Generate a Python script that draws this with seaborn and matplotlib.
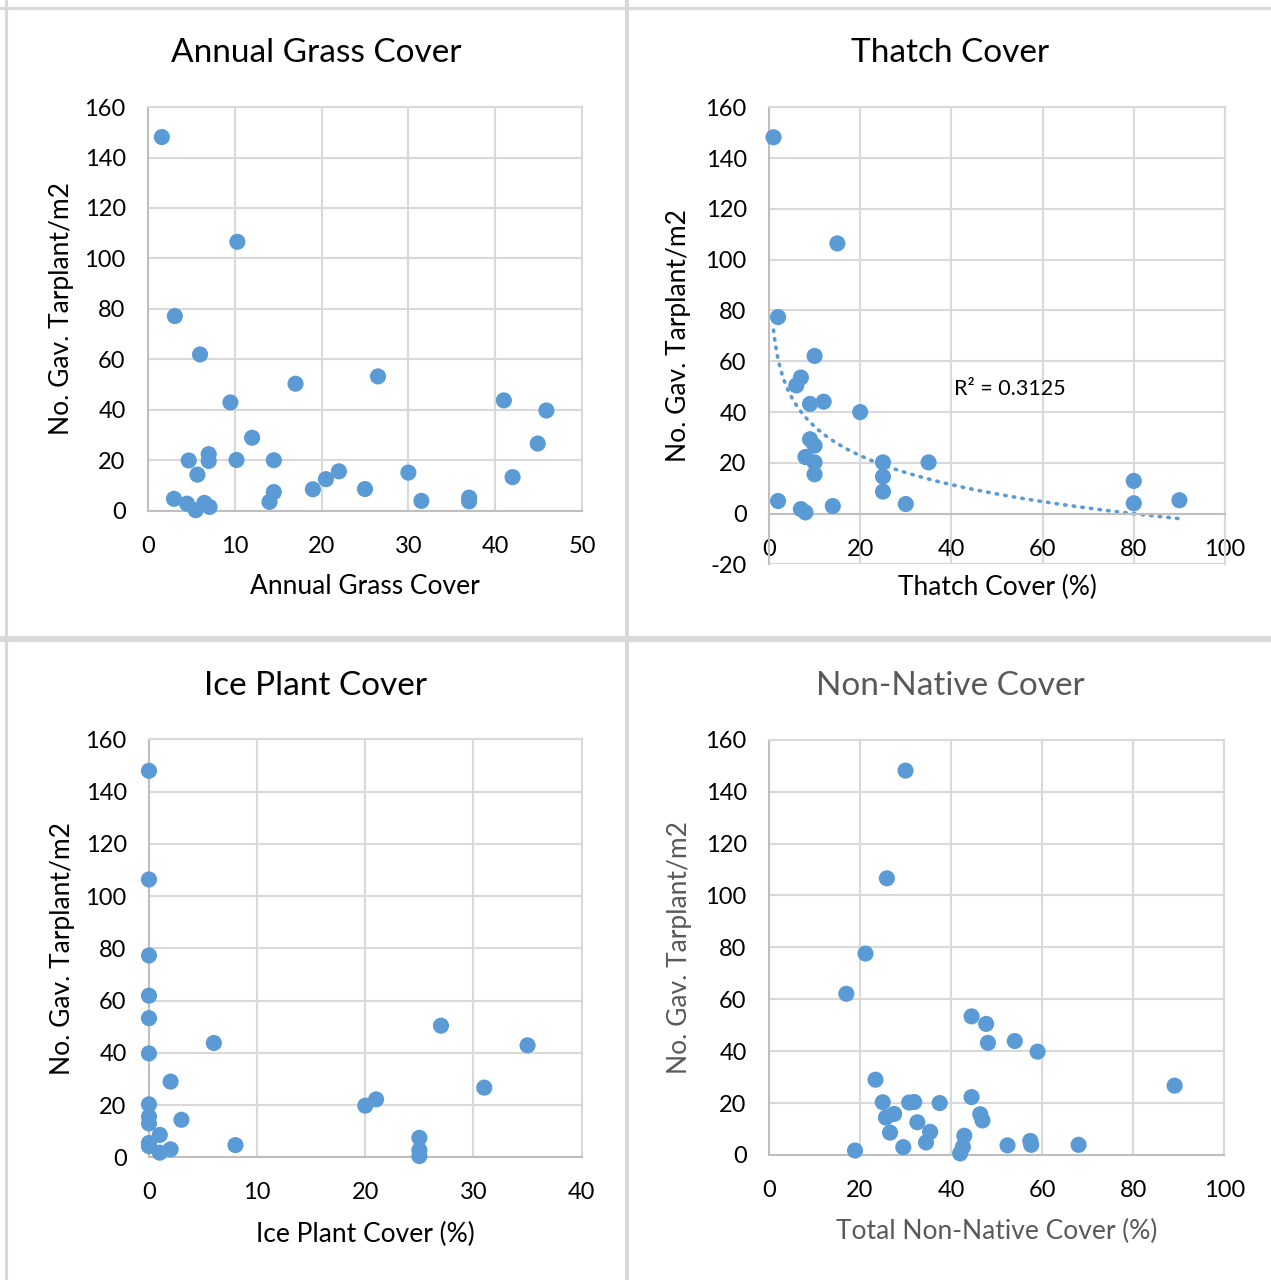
import numpy as np
import pandas as pd
import matplotlib
matplotlib.use('Agg')
import matplotlib.pyplot as plt
from matplotlib.lines import Line2D
import seaborn as sns

# values
grass_x = [1.6, 10.3, 3.1, 6.0, 17.0, 26.5, 9.5, 41.0, 45.9, 12.0, 44.9, 4.7, 7.0, 7.0, 10.2, 14.5, 5.7,
           22.0, 30.0, 20.5, 42.0, 19.0, 25.0, 14.5, 14.0, 3.0, 4.5, 6.5, 5.5, 7.1, 31.5, 37.0, 37.0]
grass_y = [148.1, 106.6, 77.2, 62.0, 50.4, 53.3, 43.0, 43.8, 39.8, 29.0, 26.7, 20.0, 22.5, 19.8, 20.2, 20.1, 14.4,
           15.7, 15.2, 12.6, 13.4, 8.6, 8.7, 7.5, 3.6, 4.8, 2.9, 3.2, 0.3, 1.6, 4.0, 5.3, 3.8]

thatch_x = [1, 15, 2, 10, 7, 6, 9, 12, 20, 9, 10, 8, 10, 25, 35, 10, 25, 25, 80, 2, 90, 80, 30, 14, 7, 8]
thatch_y = [148.2, 106.4, 77.4, 62.1, 53.6, 50.5, 43.2, 44.1, 40.0, 29.3, 26.8, 22.3, 20.2, 20.2, 20.2, 15.5,
            14.6, 8.7, 12.9, 5.0, 5.3, 4.1, 3.8, 3.0, 1.8, 0.5]
# log trendline shown on the thatch panel (y = a*ln(x) + b)
trend_a = -16.5
trend_b = 72.3
r2_label = 'R² = 0.3125'

ice_x = [0, 0, 0, 0, 0, 6, 0, 27, 35, 2, 31, 0, 21, 20, 0, 0, 3, 1, 0, 0, 1, 2, 8, 25, 25, 25]
ice_y = [148.0, 106.4, 77.3, 61.9, 53.3, 43.8, 39.8, 50.4, 42.9, 29.0, 26.7, 20.3, 22.2, 19.8, 15.6, 13.0,
         14.4, 8.6, 4.3, 5.5, 1.8, 3.1, 4.7, 7.5, 2.8, 0.5]

nonnative_x = [30.0, 25.9, 21.2, 17.0, 44.5, 47.7, 48.1, 54.0, 59.0, 23.4, 89.1, 25.0, 30.8, 31.9, 37.5, 44.5,
               27.5, 25.7, 32.6, 46.4, 46.9, 26.6, 35.4, 34.5, 29.5, 18.9, 42.9, 42.6, 42.0, 52.4, 57.4, 57.6, 68.0]
nonnative_y = [148.1, 106.6, 77.6, 62.1, 53.4, 50.5, 43.2, 43.9, 39.8, 29.0, 26.7, 20.3, 20.2, 20.4, 20.0, 22.3,
               15.8, 14.4, 12.6, 15.7, 13.3, 8.6, 8.9, 4.8, 3.0, 1.7, 7.4, 3.1, 0.6, 3.7, 5.4, 3.9, 3.9]

y_ticks = list(range(0, 161, 20))
y_ticks_thatch = list(range(-20, 161, 20))

sns.set_style('white')
plt.rcParams['font.family'] = ['Lato', 'DejaVu Sans']
plt.rcParams['axes.unicode_minus'] = False

blue = '#5B9BD5'
grid_c = '#D9D9D9'
grey_txt = '#595959'

fig = plt.figure(figsize=(12.71, 12.80), dpi=100)

def make_panel(rect, x, y, xmax, xstep, yticks, title, title_xy, xlabel, ylab_x, xlab_y, grey=False):
    ax = fig.add_axes(rect)
    df = pd.DataFrame({'x': x, 'y': y})
    sns.scatterplot(data=df, x='x', y='y', ax=ax, s=135, color=blue, edgecolor='none', zorder=3, clip_on=False)
    ax.set_xlim(0, xmax)
    ax.set_ylim(yticks[0], yticks[-1])
    ax.set_xticks(np.arange(0, xmax + 1, xstep))
    ax.set_yticks(yticks)
    ax.grid(True, color=grid_c, linewidth=1.5)
    ax.set_axisbelow(True)
    for s in ax.spines.values():
        s.set_color(grid_c)
        s.set_linewidth(1.5)
    ax.spines['left'].set_color('#BFBFBF')
    ax.spines['bottom'].set_color('#BFBFBF')
    if yticks[0] < 0:
        ax.spines['bottom'].set_position(('data', 0))
        ax.axhline(yticks[0], color=grid_c, linewidth=1.5, zorder=0)
    ax.tick_params(axis='x', length=0, pad=18, labelsize=17, labelcolor='black')
    ax.tick_params(axis='y', length=0, pad=16, labelsize=17, labelcolor='black')
    lab_c = grey_txt if grey else 'black'
    ax.set_xlabel(xlabel, fontsize=19, color=lab_c)
    ax.set_ylabel('No. Gav. Tarplant/m2', fontsize=19, color=lab_c)
    ax.xaxis.set_label_coords(0.5, xlab_y)
    ax.yaxis.set_label_coords(ylab_x, 0.5)
    fig.text(title_xy[0], title_xy[1], title, fontsize=24, ha='center', va='center', color=lab_c)
    return ax

ax1 = make_panel([0.1164, 0.6008, 0.3415, 0.3156], grass_x, grass_y, 50, 10, y_ticks,
                 'Annual Grass Cover', (0.2486, 0.9584), 'Annual Grass Cover', -0.17, -0.155)

ax2 = make_panel([0.6050, 0.5590, 0.3588, 0.3572], thatch_x, thatch_y, 100, 20, y_ticks_thatch,
                 'Thatch Cover', (0.7474, 0.9584), 'Thatch Cover (%)', -0.17, -0.022)
tx = np.linspace(min(thatch_x), max(thatch_x), 200)
ax2.plot(tx, trend_a * np.log(tx) + trend_b, color=blue, linewidth=2.6, linestyle=(0, (0.4, 2.0)),
         dash_capstyle='round', zorder=2)
ax2.text(40.5, 49, r2_label, fontsize=15.5, ha='left', va='center', color='black')

ax3 = make_panel([0.1172, 0.0958, 0.3404, 0.3265], ice_x, ice_y, 40, 10, y_ticks,
                 'Ice Plant Cover', (0.2486, 0.4638), 'Ice Plant Cover (%)', -0.17, -0.155)

ax4 = make_panel([0.6050, 0.0977, 0.3582, 0.3244], nonnative_x, nonnative_y, 100, 20, y_ticks,
                 'Non-Native Cover', (0.7474, 0.4638), 'Total Non-Native Cover (%)', -0.17, -0.155, grey=True)

# cell borders of the 2x2 layout
for seg in [((0.005, 0.005), (0, 1)), ((0.4925, 0.4925), (0, 1)), ((0.4935, 0.4935), (0, 1)),
            ((0, 1), (0.9935, 0.9935)), ((0, 1), (0.5025, 0.5025)), ((0, 1), (0.5, 0.5))]:
    fig.add_artist(Line2D(seg[0], seg[1], color='#D9D9D9', linewidth=2.2, transform=fig.transFigure))

fig.savefig('out.png', dpi=100)
